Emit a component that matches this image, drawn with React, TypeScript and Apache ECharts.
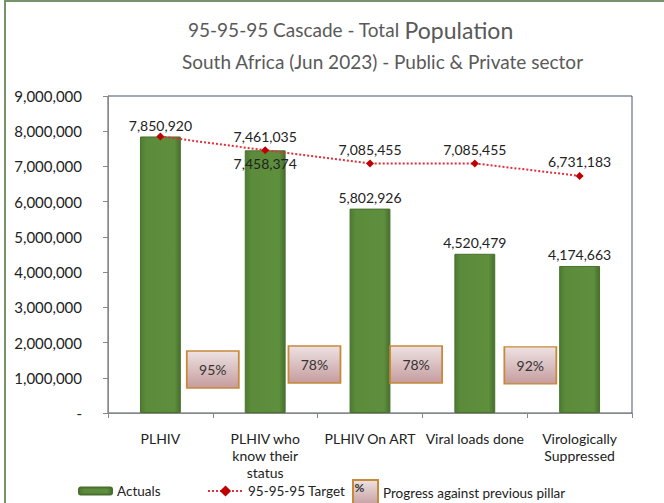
import React, { useEffect, useRef } from "react";
import * as echarts from "echarts";

const categories = [
  "PLHIV",
  "PLHIV who\nknow their\nstatus",
  "PLHIV On ART",
  "Viral loads done",
  "Virologically\nSuppressed",
];
const actuals = [7850920, 7458374, 5802926, 4520479, 4174663];
const targets = [7850920, 7461035, 7085455, 7085455, 6731183];
const progressPct = [95, 78, 78, 92];
const progressX = [1.0, 1.97, 2.94, 4.03];
const progressY = [1235000, 1377000, 1377000, 1350000];
const yTicks = { min: 0, max: 9000000, interval: 1000000 };

const FONT = "Lato, 'Open Sans', sans-serif";

export default function App() {
  const ref = useRef<HTMLDivElement>(null);
  useEffect(() => {
    document.body.style.margin = "0";
    if (!ref.current) return;
    const chart = echarts.init(ref.current, undefined, { renderer: "svg" });
    const barGrad = {
      type: "linear", x: 0, y: 0, x2: 1, y2: 0,
      colorStops: [
        { offset: 0, color: "#4d7a31" },
        { offset: 0.15, color: "#5c8c3b" },
        { offset: 0.85, color: "#5e8f3d" },
        { offset: 1, color: "#466f2c" },
      ],
    };
    const boxGrad = {
      type: "linear", x: 0, y: 0, x2: 0, y2: 1,
      colorStops: [
        { offset: 0, color: "#eee2e3" },
        { offset: 1, color: "#c59c9e" },
      ],
    };
    const fmt = (v: number) => v.toLocaleString("en-US");
    const legendText = { fontSize: 13.5, color: "#222", fontFamily: FONT };
    chart.setOption({
      animation: false,
      textStyle: { fontFamily: FONT },
      title: [
        {
          text: "{a|95-95-95 Cascade - Total }{b|Population}",
          left: 183,
          top: 13,
          textStyle: {
            fontWeight: "normal",
            rich: {
              a: { fontSize: 19, color: "#595959", fontFamily: FONT, fontWeight: "normal" },
              b: { fontSize: 23, color: "#595959", fontFamily: FONT, fontWeight: "normal" },
            },
          },
        },
        {
          text: "South Africa (Jun 2023) - Public & Private sector",
          left: 177,
          top: 47,
          textStyle: { fontSize: 19, color: "#595959", fontWeight: "normal", fontFamily: FONT },
        },
      ],
      graphic: [
        { type: "line", shape: { x1: 5, y1: 0, x2: 5, y2: 503 }, style: { stroke: "#77936a", lineWidth: 2 } },
        { type: "line", shape: { x1: 4, y1: 1, x2: 664, y2: 1 }, style: { stroke: "#77936a", lineWidth: 2 } },
        {
          type: "text",
          x: 359.5,
          y: 487,
          style: { text: "%", fontSize: 12, fontWeight: "bold", fill: "#333", align: "center", verticalAlign: "middle", fontFamily: FONT },
          z: 100,
        },
      ],
      legend: [
        {
          data: ["Actuals"],
          left: 73,
          top: 479,
          itemWidth: 33,
          itemHeight: 7,
          textStyle: legendText,
        },
        {
          data: ["95-95-95 Target"],
          left: 202,
          top: 479,
          itemWidth: 35,
          itemHeight: 14,
          textStyle: legendText,
        },
        {
          data: ["Progress against previous pillar"],
          left: 347,
          top: 474,
          itemWidth: 25,
          itemHeight: 26,
          textStyle: legendText,
        },
      ],
      grid: {
        left: 108,
        top: 96,
        right: 32,
        bottom: 90,
        show: true,
        borderColor: "#44546a",
        borderWidth: 1,
      },
      xAxis: [
        {
          type: "category",
          data: categories,
          axisLine: { lineStyle: { color: "#888" } },
          axisTick: { show: true, length: 5, lineStyle: { color: "#888" } },
          axisLabel: { fontSize: 14, color: "#222", lineHeight: 17, margin: 17, interval: 0, fontFamily: FONT },
        },
        { type: "value", min: 0, max: 5, show: false },
      ],
      yAxis: {
        type: "value",
        min: yTicks.min,
        max: yTicks.max,
        interval: yTicks.interval,
        splitLine: { show: false },
        axisLine: { show: true, lineStyle: { color: "#888" } },
        axisTick: { show: true, length: 5, lineStyle: { color: "#888" } },
        axisLabel: {
          fontSize: 15,
          color: "#222",
          margin: 26,
          fontFamily: FONT,
          formatter: (v: number) => (v === 0 ? "-" : fmt(v)),
        },
      },
      series: [
        {
          name: "Actuals",
          type: "bar",
          barWidth: "39%",
          data: actuals.map((v, i) => ({
            value: v,
            label: i === 1 ? { position: "insideTop", distance: 6 } : undefined,
          })),
          itemStyle: { color: barGrad, borderColor: "#4a7030", borderWidth: 1 },
          label: {
            show: true,
            position: "top",
            distance: 4,
            fontSize: 14,
            color: "#222",
            fontFamily: FONT,
            formatter: (p: any) => fmt(p.value),
          },
          z: 2,
        },
        {
          name: "95-95-95 Target",
          type: "line",
          data: targets.map((v, i) => ({
            value: v,
            label: i === 0 ? { show: false } : undefined,
          })),
          symbol: "diamond",
          symbolSize: 8,
          itemStyle: { color: "#c00000" },
          lineStyle: { color: "#e0303a", width: 2, type: "dotted" },
          label: {
            show: true,
            position: "top",
            distance: 3,
            fontSize: 14,
            color: "#222",
            fontFamily: FONT,
            formatter: (p: any) => fmt(p.value),
          },
          z: 5,
        },
        {
          name: "Progress against previous pillar",
          type: "scatter",
          xAxisIndex: 1,
          data: progressX.map((x, i) => [x, progressY[i], progressPct[i]]),
          symbol: "rect",
          symbolSize: [52, 37],
          itemStyle: { color: boxGrad, borderColor: "#c8893a", borderWidth: 1.5, opacity: 1 },
          label: {
            show: true,
            position: "inside",
            fontSize: 14,
            color: "#333",
            fontFamily: FONT,
            formatter: (p: any) => p.value[2] + "%",
          },
          z: 6,
        },
      ],
    });
    return () => chart.dispose();
  }, []);
  return <div ref={ref} style={{ width: 664, height: 503 }} />;
}
